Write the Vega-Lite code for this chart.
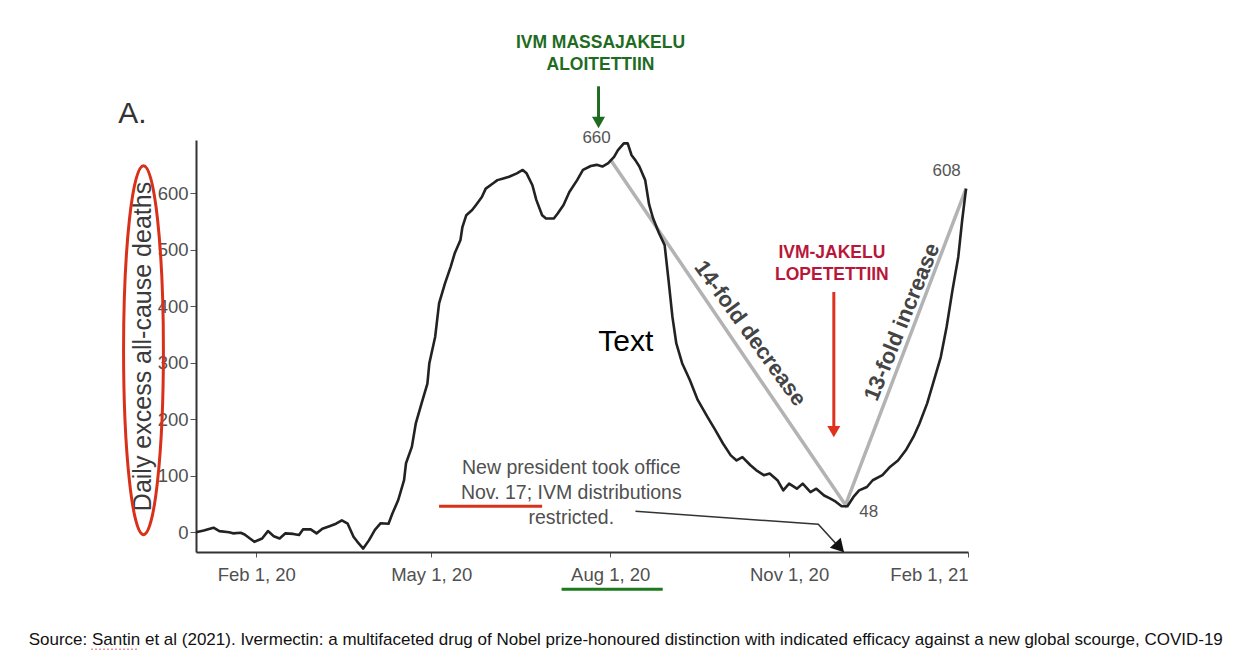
{
  "$schema": "https://vega.github.io/schema/vega-lite/v6.json",
  "width": 772,
  "height": 412,
  "autosize": {"type": "none"},
  "padding": {"left": 196, "top": 140, "right": 287, "bottom": 109},
  "background": "white",
  "config": {"font": "Liberation Sans", "view": {"stroke": null}},
  "datasets": {
    "deaths": [
      {"date": "2020-01-01", "v": 0}, {"date": "2020-01-05", "v": 3}, {"date": "2020-01-10", "v": 8}, {"date": "2020-01-13", "v": 2},
      {"date": "2020-01-18", "v": 0}, {"date": "2020-01-20", "v": -2}, {"date": "2020-01-24", "v": -1}, {"date": "2020-01-26", "v": -4},
      {"date": "2020-01-31", "v": -17}, {"date": "2020-02-04", "v": -11}, {"date": "2020-02-07", "v": 2}, {"date": "2020-02-10", "v": -7},
      {"date": "2020-02-13", "v": -11}, {"date": "2020-02-16", "v": -2}, {"date": "2020-02-20", "v": -3}, {"date": "2020-02-23", "v": -5},
      {"date": "2020-02-25", "v": 5}, {"date": "2020-02-29", "v": 5}, {"date": "2020-03-03", "v": -2}, {"date": "2020-03-06", "v": 6},
      {"date": "2020-03-10", "v": 11}, {"date": "2020-03-13", "v": 15}, {"date": "2020-03-16", "v": 21}, {"date": "2020-03-19", "v": 15},
      {"date": "2020-03-22", "v": -8}, {"date": "2020-03-24", "v": -17}, {"date": "2020-03-27", "v": -29}, {"date": "2020-03-30", "v": -14},
      {"date": "2020-04-02", "v": 4}, {"date": "2020-04-05", "v": 16}, {"date": "2020-04-09", "v": 15}, {"date": "2020-04-11", "v": 33},
      {"date": "2020-04-14", "v": 57}, {"date": "2020-04-17", "v": 92}, {"date": "2020-04-18", "v": 122}, {"date": "2020-04-21", "v": 151},
      {"date": "2020-04-23", "v": 192}, {"date": "2020-04-26", "v": 228}, {"date": "2020-04-29", "v": 263}, {"date": "2020-04-30", "v": 299},
      {"date": "2020-05-03", "v": 346}, {"date": "2020-05-05", "v": 405}, {"date": "2020-05-08", "v": 440}, {"date": "2020-05-11", "v": 470},
      {"date": "2020-05-13", "v": 493}, {"date": "2020-05-16", "v": 517}, {"date": "2020-05-17", "v": 540}, {"date": "2020-05-19", "v": 561},
      {"date": "2020-05-22", "v": 570}, {"date": "2020-05-24", "v": 579}, {"date": "2020-05-27", "v": 593}, {"date": "2020-05-29", "v": 608},
      {"date": "2020-06-02", "v": 618}, {"date": "2020-06-04", "v": 623}, {"date": "2020-06-07", "v": 626}, {"date": "2020-06-10", "v": 629},
      {"date": "2020-06-14", "v": 635}, {"date": "2020-06-17", "v": 641}, {"date": "2020-06-19", "v": 635}, {"date": "2020-06-22", "v": 614},
      {"date": "2020-06-24", "v": 588}, {"date": "2020-06-27", "v": 561}, {"date": "2020-06-29", "v": 555}, {"date": "2020-07-03", "v": 555},
      {"date": "2020-07-05", "v": 564}, {"date": "2020-07-08", "v": 579}, {"date": "2020-07-11", "v": 602}, {"date": "2020-07-15", "v": 623},
      {"date": "2020-07-18", "v": 641}, {"date": "2020-07-22", "v": 648}, {"date": "2020-07-25", "v": 650}, {"date": "2020-07-28", "v": 647},
      {"date": "2020-07-31", "v": 653}, {"date": "2020-08-03", "v": 664}, {"date": "2020-08-05", "v": 676}, {"date": "2020-08-08", "v": 688},
      {"date": "2020-08-10", "v": 688}, {"date": "2020-08-12", "v": 667}, {"date": "2020-08-14", "v": 658}, {"date": "2020-08-16", "v": 647},
      {"date": "2020-08-19", "v": 623}, {"date": "2020-08-21", "v": 580}, {"date": "2020-08-23", "v": 556}, {"date": "2020-08-26", "v": 530},
      {"date": "2020-08-29", "v": 508}, {"date": "2020-08-31", "v": 446}, {"date": "2020-09-02", "v": 381}, {"date": "2020-09-04", "v": 334},
      {"date": "2020-09-07", "v": 299}, {"date": "2020-09-11", "v": 269}, {"date": "2020-09-15", "v": 234}, {"date": "2020-09-20", "v": 204},
      {"date": "2020-09-24", "v": 181}, {"date": "2020-09-28", "v": 157}, {"date": "2020-10-02", "v": 136}, {"date": "2020-10-05", "v": 127},
      {"date": "2020-10-08", "v": 133}, {"date": "2020-10-12", "v": 119}, {"date": "2020-10-15", "v": 110}, {"date": "2020-10-19", "v": 101},
      {"date": "2020-10-22", "v": 104}, {"date": "2020-10-26", "v": 92}, {"date": "2020-10-29", "v": 74}, {"date": "2020-11-01", "v": 86},
      {"date": "2020-11-05", "v": 77}, {"date": "2020-11-08", "v": 86}, {"date": "2020-11-12", "v": 71}, {"date": "2020-11-15", "v": 77},
      {"date": "2020-11-19", "v": 65}, {"date": "2020-11-22", "v": 60}, {"date": "2020-11-25", "v": 54}, {"date": "2020-11-28", "v": 46},
      {"date": "2020-12-01", "v": 46}, {"date": "2020-12-04", "v": 62}, {"date": "2020-12-07", "v": 74}, {"date": "2020-12-11", "v": 80},
      {"date": "2020-12-14", "v": 92}, {"date": "2020-12-19", "v": 101}, {"date": "2020-12-23", "v": 116}, {"date": "2020-12-27", "v": 127},
      {"date": "2020-12-31", "v": 145}, {"date": "2021-01-04", "v": 169}, {"date": "2021-01-07", "v": 192}, {"date": "2021-01-11", "v": 228},
      {"date": "2021-01-14", "v": 263}, {"date": "2021-01-18", "v": 310}, {"date": "2021-01-21", "v": 363}, {"date": "2021-01-24", "v": 428},
      {"date": "2021-01-27", "v": 487}, {"date": "2021-01-29", "v": 552}, {"date": "2021-01-31", "v": 608}
    ]
  },
  "encoding": {
    "x": {
      "field": "date", "type": "temporal",
      "scale": {"type": "utc", "domain": [{"year": 2020, "month": 1, "date": 1, "utc": true}, {"year": 2021, "month": 2, "date": 1, "utc": true}]},
      "axis": {
        "title": null, "grid": false, "format": "%b %-d, %y",
        "values": [
          {"year": 2020, "month": 2, "date": 1, "utc": true},
          {"year": 2020, "month": 5, "date": 1, "utc": true},
          {"year": 2020, "month": 8, "date": 1, "utc": true},
          {"year": 2020, "month": 11, "date": 1, "utc": true},
          {"year": 2021, "month": 2, "date": 1, "utc": true}
        ],
        "labelFlush": 4, "labelFontSize": 18.5, "labelColor": "#505050", "labelPadding": 8,
        "tickSize": 5, "tickColor": "#555", "domainColor": "#333", "domainWidth": 2
      }
    },
    "y": {
      "field": "v", "type": "quantitative",
      "scale": {"domain": [-35, 694], "nice": false, "zero": false},
      "axis": {
        "title": "Daily excess all-cause deaths", "grid": false,
        "values": [0, 100, 200, 300, 400, 500, 600],
        "labelFontSize": 18.5, "labelColor": "#505050", "labelPadding": 2,
        "tickSize": 6, "tickColor": "#555", "domainColor": "#333", "domainWidth": 2,
        "titleFontSize": 25, "titleFontWeight": "normal", "titleColor": "#3a3a3a", "titlePadding": 2
      }
    }
  },
  "layer": [
    {"mark": {"type": "rule", "color": "#e6e6e6", "strokeWidth": 1.5}, "encoding": {"x": null, "y": {"datum": 0}}},
    {
      "data": {"values": [{"date": "2020-08-01", "v": 660}, {"date": "2020-11-30", "v": 48}, {"date": "2021-01-31", "v": 608}]},
      "mark": {"type": "line", "color": "#b3b3b3", "strokeWidth": 3.5}
    },
    {"data": {"name": "deaths"}, "mark": {"type": "line", "color": "#222222", "strokeWidth": 2.6, "strokeJoin": "round"}},
    {
      "data": {"values": [{"date": "2019-12-05", "v": 322}]},
      "mark": {"type": "point", "filled": false, "stroke": "#d9301a", "strokeWidth": 3, "opacity": 1, "size": 136161,
        "shape": "M0,-1 C0.0597,-1 0.108,-0.5523 0.108,0 C0.108,0.5523 0.0597,1 0,1 C-0.0597,1 -0.108,0.5523 -0.108,0 C-0.108,-0.5523 -0.0597,-1 0,-1 Z"}
    },
    {
      "data": {"values": [{"date": "2020-07-07", "date2": "2020-08-28", "v": -101}]},
      "mark": {"type": "rule", "color": "#1b7a1b", "strokeWidth": 3},
      "encoding": {"x2": {"field": "date2"}}
    },
    {
      "data": {"values": [{"date": "2020-05-05", "date2": "2020-06-27", "v": 46}]},
      "mark": {"type": "rule", "color": "#d9301a", "strokeWidth": 3},
      "encoding": {"x2": {"field": "date2"}}
    },
    {
      "data": {"values": [{"date": "2019-11-08", "date2": "2019-12-02", "v": -207}]},
      "mark": {"type": "rule", "color": "#e89a9a", "strokeWidth": 1.5, "strokeDash": [2, 2]},
      "encoding": {"x2": {"field": "date2"}}
    },
    {
      "data": {"values": [{"date": "2020-07-26", "v": 789, "v2": 722}]},
      "mark": {"type": "rule", "color": "#1f6b1f", "strokeWidth": 3},
      "encoding": {"y2": {"field": "v2"}}
    },
    {
      "data": {"values": [{"date": "2020-07-26", "v": 725}]},
      "mark": {"type": "point", "shape": "triangle-down", "filled": true, "size": 170, "color": "#1f6b1f", "opacity": 1}
    },
    {
      "data": {"values": [{"date": "2020-11-24", "v": 425, "v2": 176}]},
      "mark": {"type": "rule", "color": "#e0301e", "strokeWidth": 3},
      "encoding": {"y2": {"field": "v2"}}
    },
    {
      "data": {"values": [{"date": "2020-11-24", "v": 178}]},
      "mark": {"type": "point", "shape": "triangle-down", "filled": true, "size": 170, "color": "#e0301e", "opacity": 1}
    },
    {
      "data": {"values": [{"date": "2020-08-14", "v": 37}, {"date": "2020-11-16", "v": 14}, {"date": "2020-11-29", "v": -35}]},
      "mark": {"type": "line", "color": "#333333", "strokeWidth": 1.6}
    },
    {
      "data": {"values": [{"date": "2020-11-27", "v": -27}]},
      "mark": {"type": "point", "shape": "triangle-down", "filled": true, "size": 220, "angle": 317, "color": "#111111", "opacity": 1}
    },
    {
      "data": {"values": [{"date": "2019-11-22", "v": 724, "label": "A."}]},
      "mark": {"type": "text", "fontSize": 30, "color": "#333333", "align": "left", "baseline": "alphabetic"},
      "encoding": {"text": {"field": "label"}}
    },
    {
      "data": {"values": [{"date": "2020-07-27", "v": 865, "label": "IVM MASSAJAKELU"}, {"date": "2020-07-27", "v": 827, "label": "ALOITETTIIN"}]},
      "mark": {"type": "text", "fontSize": 17.5, "fontWeight": "bold", "color": "#1f6b1f", "align": "center", "baseline": "middle"},
      "encoding": {"text": {"field": "label"}}
    },
    {
      "data": {"values": [{"date": "2020-11-23", "v": 494, "label": "IVM-JAKELU"}, {"date": "2020-11-23", "v": 455, "label": "LOPETETTIIN"}]},
      "mark": {"type": "text", "fontSize": 17.5, "fontWeight": "bold", "color": "#b8173a", "align": "center", "baseline": "middle"},
      "encoding": {"text": {"field": "label"}}
    },
    {
      "data": {"values": [{"date": "2020-07-25", "v": 697, "label": "660"}, {"date": "2021-01-21", "v": 640, "label": "608"}, {"date": "2020-12-12", "v": 35, "label": "48"}]},
      "mark": {"type": "text", "fontSize": 17, "color": "#555555", "align": "center", "baseline": "middle"},
      "encoding": {"text": {"field": "label"}}
    },
    {
      "data": {"values": [{"date": "2020-08-09", "v": 336, "label": "Text"}]},
      "mark": {"type": "text", "fontSize": 30, "color": "#000000", "align": "center", "baseline": "middle"},
      "encoding": {"text": {"field": "label"}}
    },
    {
      "data": {"values": [{"date": "2020-10-12", "v": 352, "label": "14-fold decrease"}]},
      "mark": {"type": "text", "fontSize": 22, "fontWeight": "bold", "color": "#444444", "align": "center", "baseline": "middle", "angle": 54},
      "encoding": {"text": {"field": "label"}}
    },
    {
      "data": {"values": [{"date": "2020-12-29", "v": 372, "label": "13-fold increase"}]},
      "mark": {"type": "text", "fontSize": 22, "fontWeight": "bold", "color": "#444444", "align": "center", "baseline": "middle", "angle": 292},
      "encoding": {"text": {"field": "label"}}
    },
    {
      "data": {"values": [
        {"date": "2020-07-12", "v": 113, "label": "New president took office"},
        {"date": "2020-07-12", "v": 69, "label": "Nov. 17; IVM distributions"},
        {"date": "2020-07-12", "v": 25, "label": "restricted."}
      ]},
      "mark": {"type": "text", "fontSize": 19.5, "color": "#505050", "align": "center", "baseline": "middle"},
      "encoding": {"text": {"field": "label"}}
    },
    {
      "data": {"values": [{"date": "2020-08-09", "v": -191, "label": "Source: Santin et al (2021). Ivermectin: a multifaceted drug of Nobel prize-honoured distinction with indicated efficacy against a new global scourge, COVID-19"}]},
      "mark": {"type": "text", "fontSize": 17, "color": "#111111", "align": "center", "baseline": "middle"},
      "encoding": {"text": {"field": "label"}}
    }
  ]
}
